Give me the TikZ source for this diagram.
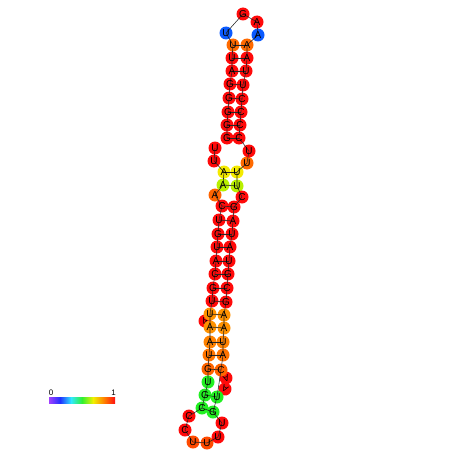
\documentclass[tikz,border=0pt]{standalone}
\usepackage{fontspec}
\setmainfont{Liberation Sans}
\definecolor{cR}{HTML}{FF0A0A}
\definecolor{cO}{HTML}{FF6A00}
\definecolor{cOa}{HTML}{FF9200}
\definecolor{cOb}{HTML}{FF8200}
\definecolor{cOc}{HTML}{FF7400}
\definecolor{cOd}{HTML}{FF6400}
\definecolor{cOR}{HTML}{FF4A00}
\definecolor{cY}{HTML}{F4EA00}
\definecolor{cYG}{HTML}{B8F000}
\definecolor{cG}{HTML}{22F022}
\definecolor{cB}{HTML}{0A5AFF}
\definecolor{cbP}{HTML}{A040FF}
\definecolor{cbB}{HTML}{2030FF}
\definecolor{cbC}{HTML}{30E8FF}
\definecolor{cbG}{HTML}{30F030}
\definecolor{cbY}{HTML}{F0F000}
\definecolor{cbO}{HTML}{FF8000}
\definecolor{cbR}{HTML}{FF1010}
\newcommand\letters{}
\newcommand\nt[5]{\node[ntc,fill=#5] (#1) at (#2,#3) {};%
  \expandafter\gdef\expandafter\letters\expandafter{\letters\node[ntl] at (#1) {#4};}}
\begin{document}
\begin{tikzpicture}[x=1pt,y=-1pt,
  ntc/.style={circle,minimum size=13pt,inner sep=0pt,draw=none},
  ntl/.style={inner sep=0pt,font=\fontsize{10}{10}\selectfont},
  hid/.style={circle,minimum size=13pt,inner sep=0pt,draw=none,font=\fontsize{9}{9}\selectfont},
  bb/.style={line width=0.55pt,black!85},
  bp/.style={line width=0.55pt,black!85},
  barlbl/.style={inner sep=0pt,font=\fontsize{8}{8}\selectfont}]
\fill[white] (0,0) rectangle (452,452);
\useasboundingbox (0,0) rectangle (452,452);
% partly hidden bulge bases (drawn first, covered by neighbours)
\node[hid,fill=cR,rotate=160] (Mx) at (205,321) {A};
\node[hid,fill=cR,rotate=200] (Z1) at (226,378) {A};
\node[hid,fill=cR,rotate=150] (Z2) at (225,389) {A};
% top hairpin loop
\nt{T1}{226}{33}{U}{cB}
\nt{T2}{243}{14}{G}{cR}
\nt{T3}{257}{22}{A}{cR}
\nt{T4}{258}{35}{A}{cB}
% top stem left
\nt{L1}{233}{45}{U}{cO}
\nt{L2}{232}{58}{U}{cR}
\nt{L3}{232}{71}{A}{cR}
\nt{L4}{230}{84}{G}{cR}
\nt{L5}{229}{98}{G}{cR}
\nt{L6}{228}{112}{G}{cR}
\nt{L7}{227}{125}{G}{cR}
\nt{L8}{227}{138}{G}{cR}
% top stem right
\nt{R1}{247}{45}{A}{cO}
\nt{R2}{247}{58}{A}{cR}
\nt{R3}{246}{71}{U}{cR}
\nt{R4}{243}{85}{U}{cR}
\nt{R5}{242}{99}{C}{cR}
\nt{R6}{241}{112}{C}{cR}
\nt{R7}{240}{125}{C}{cR}
\nt{R8}{239}{138}{C}{cR}
% exterior loop
\nt{E1}{215}{148}{U}{cR}
\nt{E2}{214}{161}{U}{cR}
\nt{E3}{247}{163}{U}{cO}
\nt{E4}{249}{151}{U}{cR}
% bottom stem left
\nt{M1}{224}{172}{A}{cY}
\nt{M2}{223}{185}{A}{cYG}
\nt{Mb}{215}{195}{A}{cOd}
\nt{M3}{222}{206}{C}{cR}
\nt{M4}{219}{220}{U}{cR}
\nt{M5}{218}{234}{G}{cR}
\nt{M6}{217}{247}{U}{cR}
\nt{M7}{216}{261}{A}{cR}
\nt{M8}{215}{274}{C}{cR}
\nt{M9}{213}{288}{G}{cR}
\nt{M10}{212}{301}{U}{cR}
\nt{M11}{210}{314}{U}{cOa}
\nt{M12}{210}{327}{A}{cOa}
\nt{M13}{210}{342}{A}{cOb}
\nt{M14}{209}{355}{U}{cOc}
\nt{M15}{208}{369}{G}{cOd}
\nt{M16}{208}{382}{U}{cG}
\nt{M17}{205}{395}{G}{cG}
\nt{M18}{202}{408}{C}{cG}
% bottom stem right
\nt{N1}{237}{172}{U}{cY}
\nt{N2}{237}{186}{U}{cYG}
\nt{Nb}{242}{197}{C}{cR}
\nt{N3}{234}{207}{G}{cR}
\nt{N4}{233}{221}{A}{cR}
\nt{N5}{232}{234}{U}{cR}
\nt{N6}{230}{247}{A}{cR}
\nt{N7}{229}{261}{U}{cR}
\nt{N8}{228}{274}{G}{cR}
\nt{N9}{227}{288}{C}{cR}
\nt{N10}{226}{302}{G}{cR}
\nt{N11}{224}{315}{A}{cOa}
\nt{N12}{224}{328}{A}{cOa}
\nt{N13}{223}{342}{U}{cOb}
\nt{N14}{223}{355}{A}{cOc}
\nt{N15}{221}{370}{C}{cOd}
\nt{N17}{217}{397}{U}{cG}
\nt{N18}{213}{412}{G}{cG}
% bottom hairpin loop
\nt{P1}{189}{416}{C}{cR}
\nt{P2}{185}{430}{C}{cR}
\nt{P3}{193}{442}{U}{cOR}
\nt{P4}{207}{443}{U}{cOR}
\nt{P5}{218}{437}{U}{cR}
\nt{P6}{222}{423}{U}{cR}
% backbone
\draw[bb] (E1.center) -- (E2.center) -- (M1.center) -- (M2.center) -- (Mb.center) -- (M3.center)
  -- (M4.center) -- (M5.center) -- (M6.center) -- (M7.center) -- (M8.center) -- (M9.center)
  -- (M10.center) -- (M11.center) -- (M12.center) -- (M13.center) -- (M14.center)
  -- (M15.center) -- (M16.center) -- (M17.center) -- (M18.center) -- (P1.center) -- (P2.center)
  -- (P3.center) -- (P4.center) -- (P5.center) -- (P6.center) -- (N18.center) -- (N17.center)
  -- (N15.center) -- (N14.center) -- (N13.center) -- (N12.center)
  -- (N11.center) -- (N10.center) -- (N9.center) -- (N8.center) -- (N7.center) -- (N6.center)
  -- (N5.center) -- (N4.center) -- (N3.center) -- (Nb.center) -- (N2.center) -- (N1.center)
  -- (E3.center) -- (E4.center) -- (R8.center) -- (R7.center) -- (R6.center) -- (R5.center)
  -- (R4.center) -- (R3.center) -- (R2.center) -- (R1.center) -- (T4.center) -- (T3.center)
  -- (T2.center) -- (T1.center) -- (L1.center) -- (L2.center) -- (L3.center) -- (L4.center)
  -- (L5.center) -- (L6.center) -- (L7.center) -- (L8.center);
% base pairs
\foreach \i in {1,...,8} {\draw[bp] (L\i.center) -- (R\i.center);}
\foreach \i in {1,...,15,17,18} {\draw[bp] (M\i.center) -- (N\i.center);}
% letters
\letters
% colour bar
\shade[left color=cbP,right color=cbB] (49,397) rectangle (60.2,403);
\shade[left color=cbB,right color=cbC] (60,397) rectangle (71.2,403);
\shade[left color=cbC,right color=cbG] (71,397) rectangle (82.2,403);
\shade[left color=cbG,right color=cbY] (82,397) rectangle (93.2,403);
\shade[left color=cbY,right color=cbO] (93,397) rectangle (104.2,403);
\shade[left color=cbO,right color=cbR] (104,397) rectangle (115,403);
\node[barlbl] (b0) at (51,393) {0};
\node[barlbl] (b1) at (113.5,393) {1};
\end{tikzpicture}
\end{document}
